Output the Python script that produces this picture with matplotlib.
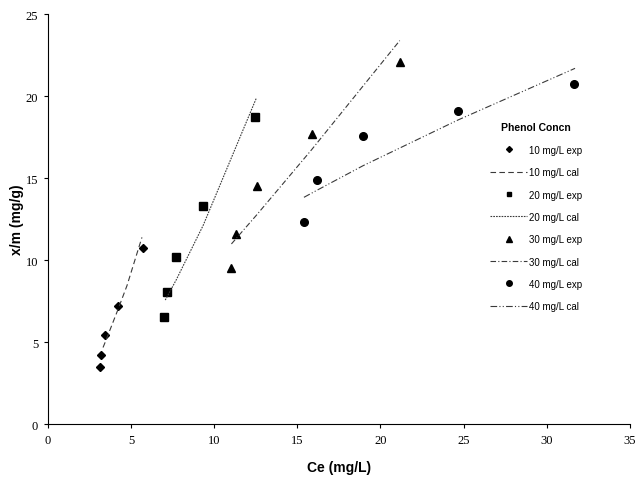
import matplotlib
matplotlib.use("Agg")
import matplotlib.pyplot as plt
from matplotlib.lines import Line2D

# experimental data (Ce, x/m)
ce10 = [3.12, 3.22, 3.44, 4.22, 5.70]
qe10 = [3.47, 4.24, 5.44, 7.23, 10.74]
ce20 = [7.00, 7.16, 7.72, 9.34, 12.46]
qe20 = [6.56, 8.08, 10.21, 13.30, 18.71]
ce30 = [11.04, 11.34, 12.56, 15.86, 21.16]
qe30 = [9.50, 11.62, 14.54, 17.69, 22.06]
ce40 = [15.40, 16.20, 18.96, 24.68, 31.62]
qe40 = [12.35, 14.86, 17.54, 19.06, 20.74]

# calculated (fitted) curves
cx10 = [3.32, 3.44, 4.22, 4.76, 5.66]
cy10 = [4.68, 4.98, 7.00, 8.45, 11.39]
cx20 = [7.06, 7.16, 7.72, 9.34, 12.54]
cy20 = [7.57, 7.75, 8.80, 12.12, 19.88]
cx30 = [11.04, 11.34, 12.56, 15.86, 21.16]
cy30 = [10.99, 11.34, 12.76, 16.73, 23.38]
cx40 = [15.40, 16.20, 18.96, 24.68, 31.70]
cy40 = [13.83, 14.27, 15.76, 18.55, 21.69]

labels = ["10 mg/L exp", "10 mg/L cal", "20 mg/L exp", "20 mg/L cal",
          "30 mg/L exp", "30 mg/L cal", "40 mg/L exp", "40 mg/L cal"]

fig = plt.figure(figsize=(6.35, 4.81), dpi=100)
ax = fig.add_axes([0.0753, 0.1158, 0.9167, 0.853])

lc = "#3a3a3a"
lw = 0.8
ax.plot(ce10, qe10, "D", color="black", ms=4.5, ls="none")
ax.plot(cx10, cy10, color=lc, lw=lw, dashes=(5, 3))
ax.plot(ce20, qe20, "s", color="black", ms=5.5, ls="none")
ax.plot(cx20, cy20, color=lc, lw=lw, dashes=(1.5, 1))
ax.plot(ce30, qe30, "^", color="black", ms=6, ls="none")
ax.plot(cx30, cy30, color=lc, lw=lw, dashes=(5, 2, 1, 2))
ax.plot(ce40, qe40, "o", color="black", ms=5.5, ls="none")
ax.plot(cx40, cy40, color=lc, lw=lw, dashes=(6, 2, 1, 2, 1, 2))

ax.set_xlim(0, 35)
ax.set_ylim(0, 25)
ax.set_xticks(range(0, 36, 5))
ax.set_yticks(range(0, 26, 5))
for s in ["top", "right"]:
    ax.spines[s].set_visible(False)
for s in ["left", "bottom"]:
    ax.spines[s].set_linewidth(0.8)
ax.tick_params(direction="out", length=3, width=0.8, labelsize=9, pad=4)
for t in ax.get_xticklabels() + ax.get_yticklabels():
    t.set_fontfamily("Liberation Serif")

ax.set_xlabel("Ce (mg/L)", fontsize=10, fontweight="bold",
              family="Liberation Sans", labelpad=10)
ax.set_ylabel("x/m (mg/g)", fontsize=10, fontweight="bold",
              family="Liberation Sans", labelpad=1.5)

handles = [
    Line2D([], [], marker="D", color="black", ms=3, ls="none"),
    Line2D([], [], color=lc, lw=lw, dashes=(5, 3)),
    Line2D([], [], marker="s", color="black", ms=3.5, ls="none"),
    Line2D([], [], color=lc, lw=lw, dashes=(1.5, 1)),
    Line2D([], [], marker="^", color="black", ms=4, ls="none"),
    Line2D([], [], color=lc, lw=lw, dashes=(5, 2, 1, 2)),
    Line2D([], [], marker="o", color="black", ms=4, ls="none"),
    Line2D([], [], color=lc, lw=lw, dashes=(6, 2, 1, 2, 1, 2)),
]
leg = ax.legend(handles, labels, title="Phenol Concn", loc="upper left",
                bbox_to_anchor=(0.745, 0.757), frameon=False,
                prop={"family": "Liberation Sans", "size": 7},
                handlelength=3.8, handletextpad=0.2, labelspacing=1.27)
leg.get_title().set_fontweight("bold")
leg.get_title().set_fontsize(7.5)
leg.get_title().set_fontfamily("Liberation Sans")

fig.savefig("out.png", dpi=100)
